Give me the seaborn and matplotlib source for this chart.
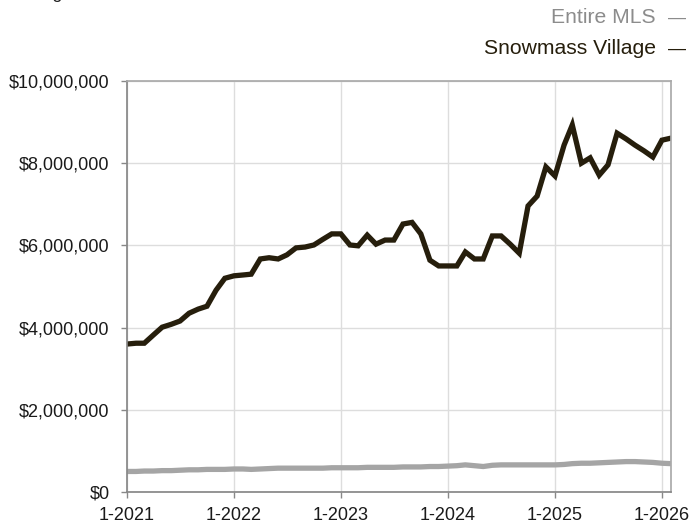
import pandas as pd
import matplotlib
matplotlib.use("Agg")
import matplotlib.pyplot as plt
import matplotlib.dates as mdates
from matplotlib.ticker import FuncFormatter
import seaborn as sns

# ==========================
# DATA (rolling 12-month median sales price)
# ==========================

months = pd.date_range("2021-01-01", "2026-02-01", freq="MS")

snowmass = [
    3.60, 3.62, 3.62, 3.82, 4.01, 4.08, 4.16, 4.35, 4.45, 4.52, 4.91, 5.20,
    5.26, 5.28, 5.30, 5.67, 5.70, 5.67, 5.77, 5.94, 5.96, 6.01, 6.15, 6.28,
    6.28, 6.01, 5.99, 6.25, 6.03, 6.13, 6.13, 6.52, 6.56, 6.28, 5.64, 5.50,
    5.50, 5.50, 5.84, 5.67, 5.67, 6.23, 6.23, 6.03, 5.81, 6.96, 7.20, 7.91,
    7.69, 8.44, 8.93, 8.00, 8.13, 7.71, 7.96, 8.73, 8.59, 8.44, 8.30, 8.15,
    8.56, 8.61,
]

entire_mls = [
    0.50, 0.50, 0.51, 0.51, 0.52, 0.52, 0.53, 0.54, 0.54, 0.55, 0.55, 0.55,
    0.56, 0.56, 0.55, 0.56, 0.57, 0.58, 0.58, 0.58, 0.58, 0.58, 0.58, 0.59,
    0.59, 0.59, 0.59, 0.60, 0.60, 0.60, 0.60, 0.61, 0.61, 0.61, 0.62, 0.62,
    0.63, 0.64, 0.66, 0.64, 0.62, 0.65, 0.66, 0.66, 0.66, 0.66, 0.66, 0.66,
    0.66, 0.67, 0.69, 0.70, 0.70, 0.71, 0.72, 0.73, 0.74, 0.74, 0.73, 0.72,
    0.70, 0.69,
]

df = pd.DataFrame({
    "month": list(months) * 2,
    "price": [v * 1e6 for v in entire_mls] + [v * 1e6 for v in snowmass],
    "area": ["Entire MLS"] * len(months) + ["Snowmass Village"] * len(months),
})

colors = {"Entire MLS": "#a5a5a5", "Snowmass Village": "#261e0c"}

# ==========================
# PLOT
# ==========================

sns.set_theme(style="white")
plt.rcParams["font.family"] = ["Liberation Sans", "DejaVu Sans"]

fig = plt.figure(figsize=(6.91, 5.25), dpi=100)
ax = fig.add_axes([127 / 691, 1 - 492 / 525, (671 - 127) / 691, (492 - 81) / 525])

sns.lineplot(
    data=df, x="month", y="price", hue="area", palette=colors,
    linewidth=3.8, legend=False, ax=ax,
)
for line in ax.lines:
    line.set_solid_joinstyle("miter")

ax.set_xlim(months[0], months[-1])
ax.set_ylim(0, 10e6)
ax.set_yticks(range(0, 10000001, 2000000))
ax.yaxis.set_major_formatter(FuncFormatter(lambda v, p: "${:,.0f}".format(v)))
ax.xaxis.set_major_locator(mdates.MonthLocator(bymonth=1))
ax.xaxis.set_major_formatter(FuncFormatter(
    lambda v, p: "{}-{}".format(mdates.num2date(v).month, mdates.num2date(v).year)))

ax.set_xlabel("")
ax.set_ylabel("")
ax.grid(True, color="#dddddd", linewidth=1)
ax.set_axisbelow(True)
for side in ["left", "bottom"]:
    ax.spines[side].set_color("#888888")
for side in ["top", "right"]:
    ax.spines[side].set_color("#aaaaaa")
ax.tick_params(axis="both", length=4, width=1, color="#888888",
               labelsize=13, labelcolor="#1a1a1a")
ax.tick_params(axis="x", direction="out", bottom=True, pad=7)
ax.tick_params(axis="y", direction="out", left=True, pad=8.5)

# header text (cut off at top) and legend
fig.text(0.01, 1 + 2 / 525, "Rolling 12-Month Calculation", fontsize=13,
         color="#222222", va="baseline", ha="left")
fig.text(656 / 691, 1 - 23 / 525, "Entire MLS", fontsize=15.2,
         color="#8c8c8c", ha="right", va="baseline")
fig.text(686 / 691, 1 - 23 / 525, "\u2014", fontsize=13,
         color="#8c8c8c", ha="right", va="baseline")
fig.text(656 / 691, 1 - 54 / 525, "Snowmass Village", fontsize=15.2,
         color="#261e0c", ha="right", va="baseline")
fig.text(686 / 691, 1 - 54 / 525, "\u2014", fontsize=13,
         color="#261e0c", ha="right", va="baseline")

fig.savefig("out.png", dpi=100)
